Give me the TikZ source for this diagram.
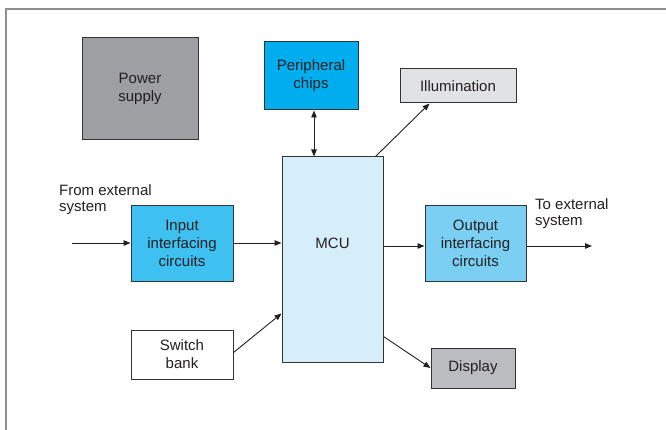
\documentclass[tikz,border=0pt]{standalone}
\usepackage{fontspec}
\setmainfont{Liberation Sans}
\usetikzlibrary{arrows.meta,calc}
\definecolor{txt}{HTML}{231F20}
\definecolor{edge}{HTML}{333333}
\definecolor{frame}{HTML}{8E8E90}
\definecolor{pwr}{HTML}{9D9FA2}
\definecolor{per}{HTML}{00AEEF}
\definecolor{ill}{HTML}{E1E2E3}
\definecolor{mcuc}{HTML}{D6EDFA}
\definecolor{inc}{HTML}{3EC1F0}
\definecolor{outc}{HTML}{7ACFF2}
\definecolor{disp}{HTML}{BBBCBF}
\tikzset{
  blk/.style={draw=edge, line width=1pt, inner sep=0pt, align=center, text=txt,
    font=\fontsize{15}{18}\selectfont},
  conn/.style={draw=txt, line width=0.9pt, -{Triangle[length=7pt,width=5.5pt]}},
  conn2/.style={draw=txt, line width=0.9pt, {Triangle[length=7pt,width=5.5pt]}-{Triangle[length=7pt,width=5.5pt]}},
  lbl/.style={text=txt, align=left, inner sep=0pt, font=\fontsize{15}{16.5}\selectfont}
}
\begin{document}
\begin{tikzpicture}[x=1pt,y=-1pt]
\useasboundingbox (0,0) rectangle (666,430);
\draw[frame, line width=2.2pt] (6,432) coordinate (fa) -- (6,9) coordinate (fb) -- (668,9) coordinate (fc);
\node[blk, fill=pwr, minimum width=116pt, minimum height=102pt] (pwr) at (140,89) {Power\\supply};
\node[blk, fill=per, minimum width=94pt, minimum height=68pt] (per) at (311,76) {Peripheral\\chips};
\node[blk, fill=ill, minimum width=116pt, minimum height=34pt] (ill) at (458,86) {Illumination};
\node[blk, fill=mcuc, minimum width=101pt, minimum height=205pt,
  label={[text=txt, font=\fontsize{15}{18}\selectfont, yshift=16pt]center:MCU}] (mcu) at (332.5,259.5) {};
\node[blk, fill=inc, minimum width=102pt, minimum height=75pt] (in) at (182,243.5) {Input\\interfacing\\circuits};
\node[blk, fill=outc, minimum width=101pt, minimum height=75pt] (out) at (475.5,243.5) {Output\\interfacing\\circuits};
\node[blk, fill=white, minimum width=102pt, minimum height=49pt] (sw) at (182,354.5) {Switch\\bank};
\node[blk, fill=disp, minimum width=84pt, minimum height=40pt] (dsp) at (473,368) {Display};
\node[lbl, anchor=north west] (from) at (59,184) {From external\\system};
\node[lbl, anchor=north west] (to) at (535,198) {To external\\system};
\coordinate (src) at (72,243);
\coordinate (dst) at (592,246);
\draw[conn2] (per.south -| 314,0) -- (mcu.north -| 314,0);
\draw[conn] ($(mcu.north east)+(-8,0)$) -- ($(ill.south west)+(30,0)$);
\draw[conn] (src) -- (in.west |- src);
\draw[conn] (in.east |- src) -- (mcu.west |- src);
\draw[conn] (mcu.east |- dst) -- (out.west |- dst);
\draw[conn] (out.east |- dst) -- (dst);
\draw[conn] ($(sw.east)+(0,-2)$) -- ($(mcu.west)+(0,54)$);
\draw[conn] ($(mcu.east)+(0,77)$) -- (dsp.west);
\end{tikzpicture}
\end{document}
